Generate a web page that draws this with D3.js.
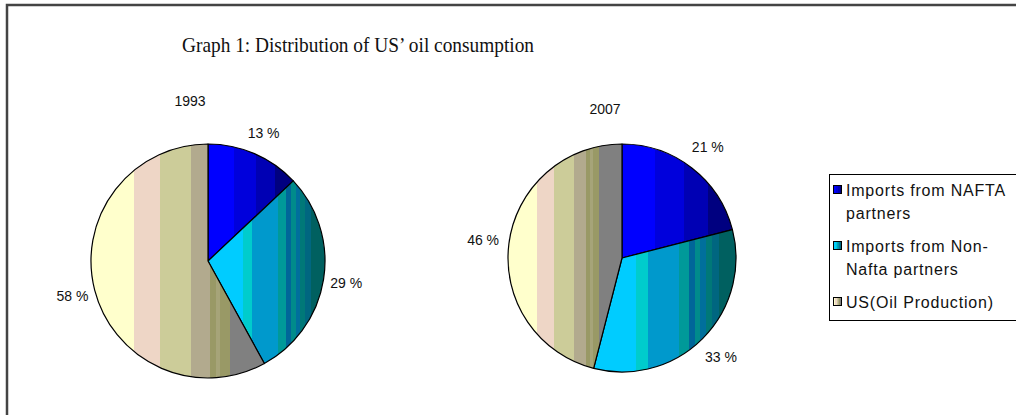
<!DOCTYPE html>
<html>
<head>
<meta charset="utf-8">
<script src="https://cdn.jsdelivr.net/npm/d3@7"></script>
<style>
  body { margin: 0; background: #fff; }
</style>
</head>
<body>
<div class="chart"></div>
<script>

const categories = ["Imports from NAFTA partners", "Imports from Non-Nafta partners", "US(Oil Production)"];
const legendLines = [["Imports from NAFTA", "partners"], ["Imports from Non-", "Nafta partners"], ["US(Oil Production)"]];
const years = ["1993", "2007"];
const shares1993 = [13, 29, 58];
const shares2007 = [21, 33, 46];
const title = "Graph 1: Distribution of US\u2019 oil consumption";

const w = 1016;
const h = 415;

// banded fills, like the old excel gradient (offsets are fractions of each slice's box)
const bands = [
  [[0, .30, "#0000ff"], [.30, .56, "#0000dc"], [.56, .78, "#0000b4"], [.78, 1, "#000080"]],
  [[0, .30, "#00ccff"], [.30, .38, "#00cccc"], [.38, .60, "#0099cc"], [.60, .67, "#009999"],
   [.67, .71, "#006699"], [.71, .75, "#008b8b"], [.75, .79, "#006f9c"], [.79, .83, "#007878"],
   [.83, .88, "#006680"], [.88, 1, "#006060"]],
  [[0, .25, "#ffffcc"], [.25, .40, "#eed6c6"], [.40, .575, "#cccc99"], [.575, .685, "#b2aa8e"],
   [.685, .72, "#999966"], [.72, .745, "#a6a479"], [.745, .80, "#999966"], [.80, 1, "#808080"]]
];

// one entry per pie: centre and radius in px
const pies = [
  {year: years[0], values: shares1993, cx: 208, cy: 261, r: 117, yearX: 190, yearY: 106},
  {year: years[1], values: shares2007, cx: 622, cy: 258, r: 114, yearX: 605, yearY: 114}
];

const svg = d3.select(".chart")
              .append("svg")
              .attr("width", w)
              .attr("height", h);

const defs = svg.append("defs");
bands.forEach(function(b, i){
  const g = defs.append("linearGradient")
                .attr("id", "band" + i)
                .attr("x1", 0).attr("x2", 1).attr("y1", 0).attr("y2", 0);
  b.forEach(function(s){
    g.append("stop").attr("offset", s[0]).attr("stop-color", s[2]);
    g.append("stop").attr("offset", s[1]).attr("stop-color", s[2]);
  });
});

// frame (only top and left show in the picture)
svg.append("path")
   .attr("d", "M7," + h + "V5H" + w)
   .attr("fill", "none")
   .attr("stroke", "#444")
   .attr("stroke-width", 2.5);

svg.append("text")
   .attr("x", 182)
   .attr("y", 52)
   .attr("textLength", 352)
   .attr("lengthAdjust", "spacingAndGlyphs")
   .style("font-family", "'Liberation Serif', 'DejaVu Serif', serif")
   .style("font-size", "21px")
   .attr("fill", "#111")
   .text(title);

const pie = d3.pie().sort(null).value(function(d){ return d; });

pies.forEach(function(p){
  const g = svg.append("g").attr("transform", "translate(" + p.cx + "," + p.cy + ")");
  const arc = d3.arc().innerRadius(0).outerRadius(p.r);
  const labelArc = d3.arc().innerRadius(140).outerRadius(140);
  const slices = pie(p.values);

  g.selectAll("path")
   .data(slices)
   .enter()
   .append("path")
   .attr("d", arc)
   .attr("fill", function(d, i){ return "url(#band" + i + ")"; })
   .attr("stroke", "#000")
   .attr("stroke-width", 1.2)
   .attr("stroke-linejoin", "round");

  g.selectAll("text")
   .data(slices)
   .enter()
   .append("text")
   .attr("x", function(d){ return labelArc.centroid(d)[0]; })
   .attr("y", function(d){ return labelArc.centroid(d)[1] + 5; })
   .attr("text-anchor", "middle")
   .style("font-family", "'Liberation Sans', Arial, sans-serif")
   .style("font-size", "14px")
   .attr("fill", "#111")
   .text(function(d){ return d.data + " %"; });

  svg.append("text")
     .attr("x", p.yearX)
     .attr("y", p.yearY)
     .attr("text-anchor", "middle")
     .style("font-family", "'Liberation Sans', Arial, sans-serif")
     .style("font-size", "14px")
     .attr("fill", "#111")
     .text(p.year);
});

// legend
const legend = svg.append("g");
legend.append("rect")
      .attr("x", 829.5)
      .attr("y", 174.5)
      .attr("width", 200)
      .attr("height", 146)
      .attr("fill", "#fff")
      .attr("stroke", "#000")
      .attr("stroke-width", 1);

const rowY = [190, 246, 302];
categories.forEach(function(c, i){
  legend.append("rect")
        .attr("x", 833.5)
        .attr("y", rowY[i] - 4.5)
        .attr("width", 8)
        .attr("height", 8)
        .attr("fill", "url(#band" + i + ")")
        .attr("stroke", "#000");
  legend.append("text")
        .attr("x", 846)
        .attr("y", rowY[i] + 5.5)
        .style("font-family", "'Liberation Sans', Arial, sans-serif")
        .style("font-size", "16px")
        .style("letter-spacing", "0.8px")
        .attr("fill", "#111")
        .selectAll("tspan")
        .data(legendLines[i])
        .enter()
        .append("tspan")
        .attr("x", 846)
        .attr("dy", function(d, j){ return j === 0 ? 0 : 23; })
        .text(function(d){ return d; });
});

</script>
</body>
</html>
